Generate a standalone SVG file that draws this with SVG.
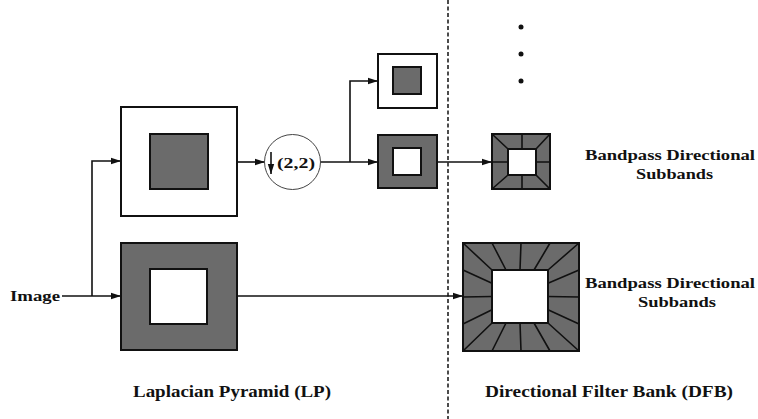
<svg xmlns="http://www.w3.org/2000/svg" width="758" height="419" viewBox="0 0 758 419">
<style>
text{font-family:"Liberation Serif","DejaVu Serif",serif;font-weight:bold;fill:#111;font-size:15.5px}
.box{stroke:#111;stroke-width:2}
.dk{fill:#6b6b6b}
.wt{fill:#fff}
.conn{fill:none;stroke:#111;stroke-width:1.6}
.div{stroke:#111;stroke-width:1.6}
.cap{font-size:16.5px}
</style>
<defs>
<marker id="ah" markerUnits="userSpaceOnUse" markerWidth="10" markerHeight="8" refX="10" refY="4" orient="auto">
<path d="M0,0.8 L10,4 L0,7.2 z" fill="#111"/>
</marker>
</defs>
<rect width="758" height="419" fill="#fff"/>
<line x1="448" y1="0" x2="448" y2="419" stroke="#111" stroke-width="1.5" stroke-dasharray="4 2.5"/>
<g id="connectors">
<path class="conn" d="M62,296 H121" marker-end="url(#ah)"/>
<path class="conn" d="M92,296 V161 H121" marker-end="url(#ah)"/>
<path class="conn" d="M237,162 H265" marker-end="url(#ah)"/>
<path class="conn" d="M320,162 H378" marker-end="url(#ah)"/>
<path class="conn" d="M350,162 V81 H378" marker-end="url(#ah)"/>
<path class="conn" d="M437,162 H492" marker-end="url(#ah)"/>
<path class="conn" d="M237,296 H463" marker-end="url(#ah)"/>
</g>
<g id="image"><text x="10" y="301" textLength="50" lengthAdjust="spacingAndGlyphs">Image</text></g>
<g id="lp-high">
<rect class="box wt" x="121" y="107" width="116" height="109"/>
<rect class="box dk" x="150" y="134" width="58" height="55"/>
</g>
<g id="lp-low">
<rect class="box dk" x="121" y="243" width="116" height="107"/>
<rect class="box wt" x="150" y="269" width="57" height="55"/>
</g>
<g id="downsample">
<ellipse cx="292.5" cy="162" rx="28" ry="27.5" fill="#fff" stroke="#444" stroke-width="1"/>
<line x1="271" y1="152" x2="271" y2="174" stroke="#111" stroke-width="1.6" marker-end="url(#ah)"/>
<text x="277" y="168" font-size="15" textLength="38" lengthAdjust="spacingAndGlyphs">(2,2)</text>
</g>
<g id="small-top">
<rect class="box wt" x="378" y="54" width="59" height="54"/>
<rect class="box dk" x="393" y="67" width="28" height="27"/>
</g>
<g id="small-mid">
<rect class="box dk" x="378" y="135" width="59" height="53"/>
<rect class="box wt" x="393" y="148" width="28" height="27"/>
</g>
<g id="dots">
<circle cx="521" cy="27" r="2.5" fill="#111"/>
<circle cx="521" cy="54" r="2.5" fill="#111"/>
<circle cx="521" cy="81" r="2.5" fill="#111"/>
</g>
<g id="dfb-small">
<rect class="box dk" x="492" y="134" width="58" height="55"/>
<rect class="box wt" x="508" y="149" width="28" height="26"/>
<path class="div" d="M492,134 L508,149 M550,134 L536,149 M492,189 L508,175 M550,189 L536,175 M522,134 V149 M522,175 V189 M492,162 H508 M536,162 H550"/>
</g>
<g id="dfb-large">
<rect class="box dk" x="463" y="243" width="116" height="108"/>
<rect class="box wt" x="492" y="270" width="56" height="53"/>
<path class="div" d="M492,270 L463,243 M506,270 L492,243 M520,270 L521,243 M534,270 L550,243 M548,270 L579,243 M492,323 L463,351 M506,323 L492,351 M520,323 L521,351 M534,323 L550,351 M548,323 L579,351 M492,283.25 L463,270 M492,296.5 L463,297 M492,309.75 L463,324 M548,283.25 L579,270 M548,296.5 L579,297 M548,309.75 L579,324"/>
</g>
<g id="label-top">
<text x="585" y="160" textLength="170" lengthAdjust="spacingAndGlyphs">Bandpass Directional</text>
<text x="636" y="179" textLength="77" lengthAdjust="spacingAndGlyphs">Subbands</text>
</g>
<g id="label-bottom">
<text x="585" y="288" textLength="170" lengthAdjust="spacingAndGlyphs">Bandpass Directional</text>
<text x="638" y="307" textLength="78" lengthAdjust="spacingAndGlyphs">Subbands</text>
</g>
<g id="captions">
<text class="cap" x="133" y="397" textLength="198" lengthAdjust="spacingAndGlyphs">Laplacian Pyramid (LP)</text>
<text class="cap" x="485" y="397" textLength="248" lengthAdjust="spacingAndGlyphs">Directional Filter Bank (DFB)</text>
</g>
</svg>
